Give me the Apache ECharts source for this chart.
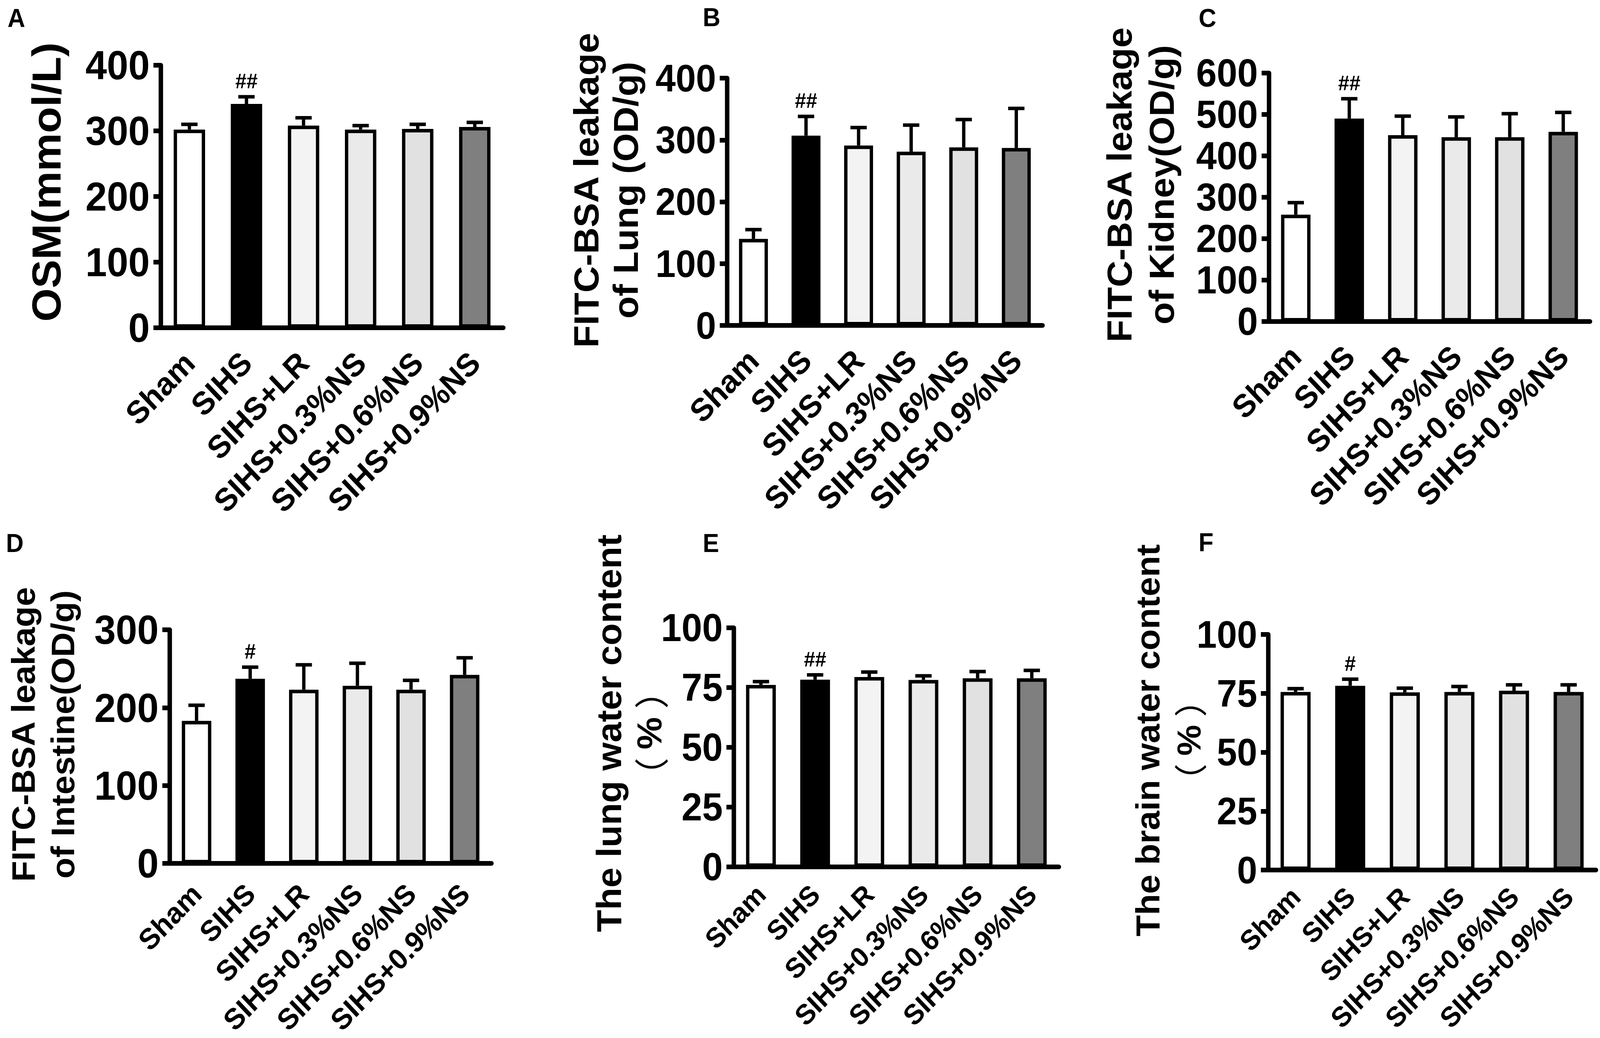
<!DOCTYPE html>
<html>
<head>
<meta charset="utf-8">
<title>SIHS panels</title>
<script src="https://cdn.jsdelivr.net/npm/echarts@6.0.0/dist/echarts.min.js"></script>
<style>
  html, body { margin: 0; padding: 0; background: #fff; overflow: hidden; }
  #chart { width: 4317px; height: 2657px; transform-origin: 0 0; }
</style>
</head>
<body>
<div id="chart"></div>
<script>
// groups, same in every panel
const categories = ['Sham', 'SIHS', 'SIHS+LR', 'SIHS+0.3%NS', 'SIHS+0.6%NS', 'SIHS+0.9%NS'];
const barColors = ['#ffffff', '#000000', '#f3f3f3', '#eaeaea', '#e1e1e1', '#7f7f7f'];

// A: osmolality
const osmMean = [302, 341, 308, 302, 303, 306];
const osmErr = [8, 11, 12, 6, 7, 7];
const osmMark = ['', '##', '', '', '', ''];
const osmAxis = [0, 400, 100];

// B: FITC-BSA lung
const lungLeakMean = [140, 307, 291, 281, 288, 287];
const lungLeakErr = [15, 31, 29, 43, 45, 64];
const lungLeakMark = ['', '##', '', '', '', ''];
const lungLeakAxis = [0, 400, 100];

// C: FITC-BSA kidney
const kidneyLeakMean = [258, 490, 450, 445, 445, 458];
const kidneyLeakErr = [29, 48, 46, 49, 57, 47];
const kidneyLeakMark = ['', '##', '', '', '', ''];
const kidneyLeakAxis = [0, 600, 100];

// D: FITC-BSA intestine
const intestineLeakMean = [183, 237, 223, 228, 223, 242];
const intestineLeakErr = [20, 15, 32, 29, 12, 22];
const intestineLeakMark = ['', '#', '', '', '', ''];
const intestineLeakAxis = [0, 300, 100];

// E: lung water
const lungWaterMean = [76.1, 78.3, 79.4, 78.2, 78.9, 78.9];
const lungWaterErr = [1.4, 2.0, 2.1, 1.7, 2.8, 3.3];
const lungWaterMark = ['', '##', '', '', '', ''];
const lungWaterAxis = [0, 100, 25];

// F: brain water
const brainWaterMean = [75.6, 78.2, 75.4, 75.6, 76.1, 75.6];
const brainWaterErr = [1.4, 2.8, 1.8, 2.3, 2.5, 3.0];
const brainWaterMark = ['', '#', '', '', '', ''];
const brainWaterAxis = [0, 100, 25];

const FONT = '"Liberation Sans", Arial, Helvetica, sans-serif';
const CJK = '"Noto Sans CJK SC", sans-serif';

// top row labels are a bit larger than the bottom row ones
const panels = [
  {mean: osmMean, err: osmErr, mark: osmMark, axis: osmAxis,
    grid: {left: 434, top: 167, width: 924, height: 672}, tickSize: 104, catSize: 82, catGap: 76},
  {mean: lungLeakMean, err: lungLeakErr, mark: lungLeakMark, axis: lungLeakAxis,
    grid: {left: 1962, top: 200, width: 851, height: 633}, tickSize: 98, catSize: 82, catGap: 76},
  {mean: kidneyLeakMean, err: kidneyLeakErr, mark: kidneyLeakMark, axis: kidneyLeakAxis,
    grid: {left: 3424, top: 187, width: 866, height: 636}, tickSize: 100, catSize: 82, catGap: 76},
  {mean: intestineLeakMean, err: intestineLeakErr, mark: intestineLeakMark, axis: intestineLeakAxis,
    grid: {left: 458, top: 1612, width: 868, height: 598}, tickSize: 104, catSize: 75, catGap: 65},
  {mean: lungWaterMean, err: lungWaterErr, mark: lungWaterMark, axis: lungWaterAxis,
    grid: {left: 1980, top: 1607, width: 877, height: 612}, tickSize: 100, catSize: 72, catGap: 58},
  {mean: brainWaterMean, err: brainWaterErr, mark: brainWaterMark, axis: brainWaterAxis,
    grid: {left: 3422, top: 1624, width: 884, height: 603}, tickSize: 98, catSize: 72, catGap: 56}
];

// panel letters and y titles (x, y = text centre)
const letters = [
  ['A', 44, 46], ['B', 1920, 44], ['C', 3258, 46],
  ['D', 40, 1390], ['E', 1918, 1390], ['F', 3254, 1388]
];
const yTitles = [
  {text: 'OSM(mmol/L)', x: 125, y: 466, size: 110, lh: 110},
  {text: 'FITC-BSA leakage\nof Lung (OD/g)', x: 1635, y: 487, size: 94, lh: 107},
  {text: 'FITC-BSA leakage\nof Kidney(OD/g)', x: 3077, y: 473, size: 94, lh: 114},
  {text: 'FITC-BSA leakage\nof Intestine(OD/g)', x: 116, y: 1880, size: 88, lh: 107},
  {text: 'The lung water content\n{p|（ }%{p| ）}', x: 1698, y: 1877, size: 93, lh: 109},
  {text: 'The brain water content\n{p|（ }%{p| ）}', x: 3152, y: 1895, size: 89, lh: 111}
];

function errorBars(marks) {
  return function (params, api) {
    const x = api.value(0);
    const m = api.value(1);
    const e = api.value(2);
    const p0 = api.coord([x, m]);
    const p1 = api.coord([x, m + e]);
    const line = {stroke: '#000', lineWidth: 9};
    const children = [
      {type: 'line', shape: {x1: p0[0], y1: p0[1], x2: p1[0], y2: p1[1]}, style: line},
      {type: 'line', shape: {x1: p1[0] - 22, y1: p1[1], x2: p1[0] + 22, y2: p1[1]}, style: line}
    ];
    const mark = marks[params.dataIndex];
    if (mark) {
      children.push({
        type: 'text', x: p1[0], y: p1[1] - 14,
        style: {text: mark, fill: '#000', fontSize: 54, fontWeight: 'bold', fontFamily: FONT,
          align: 'center', verticalAlign: 'bottom'}
      });
    }
    return {type: 'group', children: children};
  };
}

const option = {
  animation: false,
  backgroundColor: '#ffffff',
  grid: [], xAxis: [], yAxis: [], series: [], graphic: []
};

panels.forEach(function (p, i) {
  option.grid.push(Object.assign({containLabel: false, outerBoundsMode: 'none'}, p.grid));
  option.xAxis.push({
    type: 'category', gridIndex: i, data: categories,
    axisLine: {lineStyle: {color: '#000', width: 12}},
    axisTick: {alignWithLabel: true, length: 22, lineStyle: {color: '#000', width: 14}},
    axisLabel: {interval: 0, rotate: 45, margin: p.catGap, color: '#000',
      fontSize: p.catSize, fontWeight: 'bold', fontFamily: FONT},
    splitLine: {show: false}
  });
  option.yAxis.push({
    type: 'value', gridIndex: i,
    min: p.axis[0], max: p.axis[1], interval: p.axis[2],
    axisLine: {show: true, lineStyle: {color: '#000', width: 12}},
    axisTick: {show: true, length: 20, lineStyle: {color: '#000', width: 12}},
    axisLabel: {margin: 30, color: '#000', fontSize: p.tickSize, fontWeight: 'bold', fontFamily: FONT},
    splitLine: {show: false}
  });
  option.series.push({
    type: 'bar', xAxisIndex: i, yAxisIndex: i, barWidth: '55%',
    data: p.mean.map(function (v, k) {
      return {value: v, itemStyle: {color: barColors[k], borderColor: '#000', borderWidth: 9}};
    }),
    z: 2
  });
  option.series.push({
    type: 'custom', xAxisIndex: i, yAxisIndex: i, z: 3,
    renderItem: errorBars(p.mark),
    encode: {x: 0, y: 1},
    data: p.mean.map(function (v, k) { return [k, v, p.err[k]]; })
  });
});

letters.forEach(function (l) {
  option.graphic.push({
    type: 'text', x: l[1], y: l[2],
    style: {text: l[0], fill: '#000', fontSize: 66, fontWeight: 'bold', fontFamily: FONT,
      align: 'center', verticalAlign: 'middle'}
  });
});

yTitles.forEach(function (t) {
  option.graphic.push({
    type: 'text', x: t.x, y: t.y, rotation: Math.PI / 2,
    style: {text: t.text, fill: '#000', fontSize: t.size, fontWeight: 'bold', fontFamily: FONT,
      lineHeight: t.lh, align: 'center', verticalAlign: 'middle',
      rich: {p: {fontFamily: CJK, fontWeight: 'normal', fontSize: t.size, lineHeight: t.lh}}}
  });
});

// the chart is laid out at the reference size, then fitted to the window
const dom = document.getElementById('chart');
const sx = window.innerWidth / 4317;
const sy = window.innerHeight / 2657;
if (Math.abs(sx - 1) > 0.002 || Math.abs(sy - 1) > 0.002) {
  dom.style.transform = 'scale(' + sx + ',' + sy + ')';
}
const chart = echarts.init(dom, null, {renderer: 'svg'});
chart.setOption(option);
</script>
</body>
</html>
